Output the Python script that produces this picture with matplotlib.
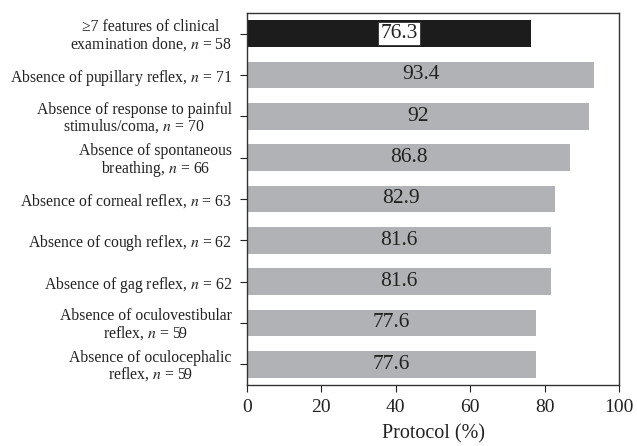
import matplotlib.pyplot as plt

plt.rcParams['font.family'] = ['Liberation Serif', 'DejaVu Serif']
plt.rcParams['mathtext.fontset'] = 'stix'

# categories (top to bottom) and protocol percentages
categories = [
    '≥7 features of clinical\nexamination done, $n$ = 58',
    'Absence of pupillary reflex, $n$ = 71',
    'Absence of response to painful\nstimulus/coma, $n$ = 70',
    'Absence of spontaneous\nbreathing, $n$ = 66',
    'Absence of corneal reflex, $n$ = 63',
    'Absence of cough reflex, $n$ = 62',
    'Absence of gag reflex, $n$ = 62',
    'Absence of oculovestibular\nreflex, $n$ = 59',
    'Absence of oculocephalic\nreflex, $n$ = 59',
]
values = [76.3, 93.4, 92, 86.8, 82.9, 81.6, 81.6, 77.6, 77.6]
value_labels = ['76.3', '93.4', '92', '86.8', '82.9', '81.6', '81.6', '77.6', '77.6']
xticks = [0, 20, 40, 60, 80, 100]

fig = plt.figure(figsize=(6.37, 4.46), dpi=100)
ax = fig.add_axes([0.3878, 0.1368, 0.5839, 0.8341])

ypos = list(range(len(categories)))
colors = ['#1c1c1c'] + ['#b1b2b5'] * (len(categories) - 1)
ax.barh(ypos, values, height=0.65, color=colors, zorder=2)

for i, (v, lab) in enumerate(zip(values, value_labels)):
    if i == 0:
        # highlighted bar: label in a white box
        ax.text(v / 2 + 2.8, i, lab, ha='center', va='center', fontsize=15.5,
                color='#222222', zorder=3,
                bbox=dict(boxstyle='square,pad=0.1', facecolor='white',
                          edgecolor='#333333', linewidth=0.6))
    else:
        ax.text(v / 2, i, lab, ha='center', va='center', fontsize=15.5,
                color='#222222', zorder=3)

ax.set_xlim(0, 100)
ax.set_ylim(8.5, -0.5)
ax.set_xticks(xticks)
ax.set_xticklabels([str(t) for t in xticks], fontsize=14)
ax.set_yticks(ypos)
ax.set_yticklabels(categories, fontsize=11.3, multialignment='center',
                   linespacing=1.0, color='#222222')
ax.tick_params(axis='x', direction='out', length=5, pad=5, colors='#222222')
ax.tick_params(axis='y', direction='out', length=5, pad=6, colors='#222222')
ax.set_xlabel('Protocol (%)', fontsize=14.5, color='#222222', labelpad=6)

for s in ax.spines.values():
    s.set_color('#333333')
    s.set_linewidth(1.0)

fig.savefig('out.png', dpi=100)
